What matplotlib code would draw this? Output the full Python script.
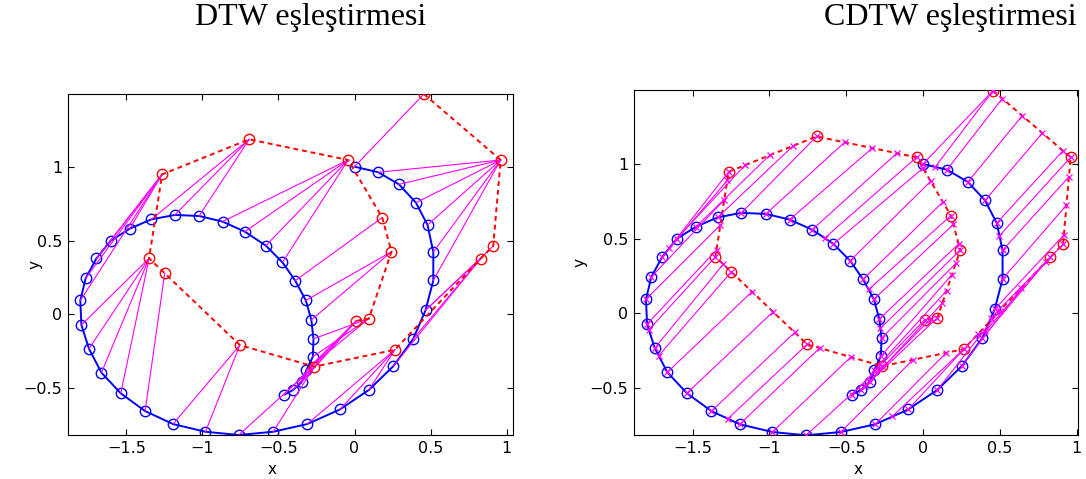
import numpy as np
import matplotlib
matplotlib.use("Agg")
import matplotlib.pyplot as plt

# ====================== DATA ======================

# first curve (blue)
blue_x = [0.000, 0.156, 0.292, 0.404, 0.480, 0.518, 0.518, 0.467, 0.386, 0.254,
          0.094, -0.096, -0.311, -0.535, -0.761, -0.980, -1.193, -1.377, -1.537, -1.664,
          -1.746, -1.796, -1.803, -1.768, -1.697, -1.603, -1.478, -1.336, -1.182, -1.022,
          -0.868, -0.721, -0.583, -0.474, -0.390, -0.320, -0.284, -0.270, -0.274, -0.316,
          -0.348, -0.404, -0.462]
blue_y = [1.000, 0.962, 0.880, 0.756, 0.605, 0.422, 0.230, 0.028, -0.166, -0.352,
          -0.512, -0.644, -0.743, -0.795, -0.817, -0.795, -0.743, -0.655, -0.535, -0.395,
          -0.233, -0.072, 0.094, 0.244, 0.379, 0.499, 0.580, 0.643, 0.673, 0.666,
          0.628, 0.560, 0.465, 0.352, 0.228, 0.094, -0.038, -0.166, -0.287, -0.377,
          -0.460, -0.512, -0.544]

# second curve (red, dashed)
red_x = [0.456, 0.961, 0.912, 0.829, 0.265, -0.265, -0.754, -1.248,
         -1.351, -1.265, -0.693, -0.042, 0.182, 0.243, 0.094, 0.011]
red_y = [1.492, 1.045, 0.463, 0.377, -0.240, -0.354, -0.208, 0.278,
         0.379, 0.948, 1.185, 1.045, 0.655, 0.424, -0.029, -0.044]

# DTW warping path (index into blue, index into red)
dtw_blue_idx = [0, 1, 2, 3, 4, 5, 6, 7, 7, 8, 9, 10, 11, 12, 13, 14, 15, 16, 17,
                18, 19, 20, 21, 22, 23, 24, 25, 26, 27, 28, 29, 30, 31, 32, 33,
                34, 35, 36, 37, 38, 39, 39, 40, 41, 42]
dtw_red_idx = [0, 1, 1, 1, 1, 1, 1, 2, 3, 3, 3, 4, 4, 4, 5, 5, 6, 6, 7,
               8, 8, 8, 8, 9, 9, 9, 9, 9, 10, 10, 10, 11, 11, 11, 11,
               12, 13, 13, 14, 14, 14, 15, 15, 15, 15]

# CDTW matched points: on the blue curve ...
cdtw_bx = [0.000, 0.080, 0.156, 0.292, 0.404, 0.480, 0.498, 0.518, 0.518, 0.467,
           0.442, 0.405, 0.386, 0.254, 0.094, -0.096, -0.200, -0.311, -0.535, -0.761,
           -0.980, -1.193, -1.270, -1.377, -1.537, -1.664, -1.720, -1.746, -1.784, -1.796,
           -1.803, -1.768, -1.697, -1.650, -1.603, -1.478, -1.336, -1.182, -1.022, -0.868,
           -0.721, -0.640, -0.583, -0.474, -0.390, -0.353, -0.320, -0.284, -0.277, -0.270,
           -0.274, -0.316, -0.348, -0.380, -0.404, -0.462]
cdtw_by = [1.000, 0.981, 0.962, 0.880, 0.756, 0.605, 0.520, 0.422, 0.230, 0.028,
           -0.030, -0.120, -0.166, -0.352, -0.512, -0.644, -0.691, -0.743, -0.795, -0.817,
           -0.795, -0.743, -0.706, -0.655, -0.535, -0.395, -0.284, -0.233, -0.110, -0.072,
           0.094, 0.244, 0.379, 0.440, 0.499, 0.580, 0.643, 0.673, 0.666, 0.628,
           0.560, 0.504, 0.465, 0.352, 0.228, 0.160, 0.094, -0.038, -0.100, -0.166,
           -0.287, -0.377, -0.460, -0.490, -0.512, -0.544]
# ... and on the red curve
cdtw_rx = [0.456, 0.456, 0.516, 0.646, 0.777, 0.911, 0.961, 0.950, 0.934, 0.917,
           0.912, 0.829, 0.800, 0.640, 0.500, 0.360, 0.265, 0.152, -0.065, -0.265,
           -0.470, -0.672, -0.754, -0.835, -0.976, -1.113, -1.248, -1.300, -1.351, -1.344,
           -1.319, -1.294, -1.274, -1.265, -1.160, -0.998, -0.846, -0.693, -0.510, -0.330,
           -0.170, -0.042, 0.000, 0.050, 0.130, 0.182, 0.198, 0.232, 0.243, 0.214,
           0.189, 0.154, 0.127, 0.094, 0.050, 0.011]
cdtw_ry = [1.492, 1.492, 1.439, 1.324, 1.208, 1.089, 1.045, 0.915, 0.725, 0.525,
           0.463, 0.377, 0.345, 0.170, 0.017, -0.136, -0.240, -0.264, -0.311, -0.354,
           -0.293, -0.232, -0.208, -0.128, 0.010, 0.145, 0.278, 0.329, 0.379, 0.424,
           0.592, 0.759, 0.890, 0.948, 0.991, 1.059, 1.121, 1.185, 1.146, 1.107,
           1.073, 1.045, 0.972, 0.885, 0.746, 0.655, 0.596, 0.465, 0.424, 0.335,
           0.260, 0.152, 0.070, -0.029, -0.037, -0.044]

ticks_x = [-1.5, -1, -0.5, 0, 0.5, 1]
ticks_y = [-0.5, 0, 0.5, 1]

# ====================== PLOT ======================

W, H = 1086, 479
fig = plt.figure(figsize=(W / 100, H / 100), dpi=100, facecolor="white")

BLUE = (0, 0, 1)
RED = (1, 0, 0)
MAG = (1, 0, 1)


def style_axes(ax, xlim, ylim, ylab_x, xlab_x):
    ax.set_xlim(*xlim)
    ax.set_ylim(*ylim)
    ax.set_xticks(ticks_x)
    ax.set_xticklabels(["\u22121.5", "\u22121", "\u22120.5", "0", "0.5", "1"])
    ax.set_yticks(ticks_y)
    ax.set_yticklabels(["\u22120.5", "0", "0.5", "1"])
    ax.tick_params(direction="in", length=4.5, width=0.8, top=True, right=True,
                   labelsize=11.5, pad=4)
    for sp in ax.spines.values():
        sp.set_linewidth(0.8)
    ax.set_ylabel("y", fontsize=11)
    ax.set_xlabel("x", fontsize=11)
    ax.yaxis.set_label_coords(ylab_x, 0.5)
    ax.xaxis.set_label_coords(xlab_x, -0.079)


def draw_curves(ax):
    ax.plot(blue_x, blue_y, color=BLUE, linewidth=1.4, marker="o", markersize=7.5,
            markerfacecolor="none", markeredgewidth=1.0, zorder=2)
    ax.plot(red_x, red_y, color=RED, linewidth=1.4, linestyle=(0, (2.5, 2)),
            marker="o", markersize=7.5, markerfacecolor="none", markeredgewidth=1.0,
            zorder=4)


# left: DTW
ax1 = fig.add_axes([68 / W, 44 / H, 445 / W, 341 / H])
draw_curves(ax1)
for i, j in zip(dtw_blue_idx, dtw_red_idx):
    ax1.plot([blue_x[i], red_x[j]], [blue_y[i], red_y[j]], color=MAG,
             linewidth=0.8, zorder=3)
style_axes(ax1, (-1.884, 1.042), (-0.817, 1.492), -0.058, 0.458)

# right: CDTW
ax2 = fig.add_axes([634 / W, 44 / H, 444 / W, 345 / H])
draw_curves(ax2)
for bx, by, rx, ry in zip(cdtw_bx, cdtw_by, cdtw_rx, cdtw_ry):
    ax2.plot([bx, rx], [by, ry], color=MAG, linewidth=0.8, marker="x",
             markersize=5, markeredgewidth=0.9, zorder=5)
style_axes(ax2, (-1.881, 1.009), (-0.815, 1.496), -0.104, 0.505)

# titles
fig.text(311 / W, 1 - 25 / H, "DTW eşleştirmesi", ha="center", va="baseline",
         family="Liberation Serif", fontsize=23)
fig.text(950 / W, 1 - 25 / H, "CDTW eşleştirmesi", ha="center", va="baseline",
         family="Liberation Serif", fontsize=23)

fig.savefig("out.png", dpi=100, facecolor="white")
